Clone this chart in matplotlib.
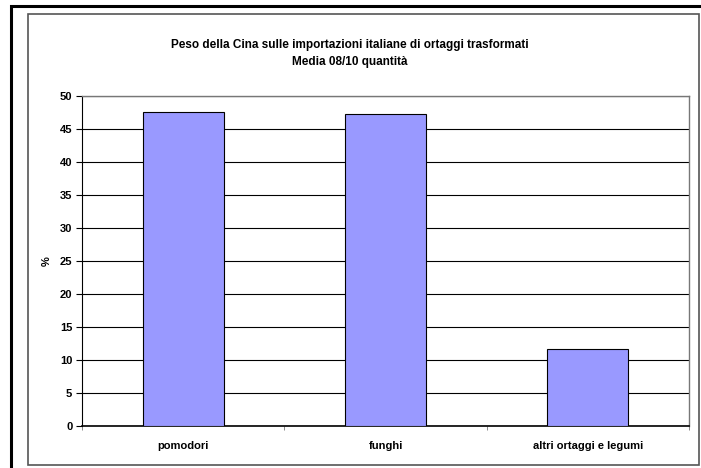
import numpy as np
import matplotlib.pyplot as plt
from matplotlib.patches import Rectangle

plt.rcParams['font.family'] = ['Liberation Sans', 'DejaVu Sans']
plt.rcParams['font.weight'] = 'bold'

categorie = ['pomodori', 'funghi', 'altri ortaggi e legumi']
quota = [47.5, 47.2, 11.6]

W, H = 701, 468
fig = plt.figure(figsize=(W / 100, H / 100), dpi=100)

# cornice esterna nera e bordo grigio dell'area grafico
fig.patches.append(Rectangle((11 / W, -0.1), 1.2, (H - 6) / H + 0.1, transform=fig.transFigure,
                             fill=False, edgecolor='black', lw=2.2))
fig.patches.append(Rectangle((28 / W, (H - 465) / H), (699 - 28) / W, (465 - 14) / H,
                             transform=fig.transFigure, fill=False, edgecolor='#555555', lw=1.2))

ax = fig.add_axes([82 / W, (H - 426) / H, (689 - 82) / W, (426 - 96) / H])
x = np.arange(len(categorie))
ax.bar(x, quota, width=0.4, color='#9999FF', edgecolor='black', linewidth=0.8, zorder=3)

ax.set_xlim(-0.5, len(categorie) - 0.5)
ax.set_ylim(0, 50)
ax.set_yticks(np.arange(0, 51, 5))
ax.yaxis.grid(True, color='black', lw=0.8, zorder=0)
ax.set_xticks(x)
ax.set_xticklabels(categorie, fontsize=8, fontweight='bold')
ax.tick_params(axis='x', length=0, pad=11)
ax.set_xticks(np.arange(-0.5, len(categorie), 1), minor=True)
ax.tick_params(axis='x', which='minor', length=3, color='#777777')
ax.tick_params(axis='y', labelsize=8, length=4, width=0.8, pad=3)
for lab in ax.get_yticklabels():
    lab.set_fontweight('bold')

for s in ['top', 'right']:
    ax.spines[s].set_color('#777777')
    ax.spines[s].set_linewidth(1.0)
ax.spines['left'].set_linewidth(0.8)
ax.spines['bottom'].set_linewidth(1.2)

ax.set_ylabel('%', fontsize=8, fontweight='bold', labelpad=6)

fig.text(350 / W, 1 - 45 / H, 'Peso della Cina sulle importazioni italiane di ortaggi trasformati',
         ha='center', va='center', fontsize=8.5, fontweight='bold')
fig.text(350 / W, 1 - 62 / H, 'Media 08/10 quantità',
         ha='center', va='center', fontsize=8.5, fontweight='bold')

fig.savefig('out.png', dpi=100)
